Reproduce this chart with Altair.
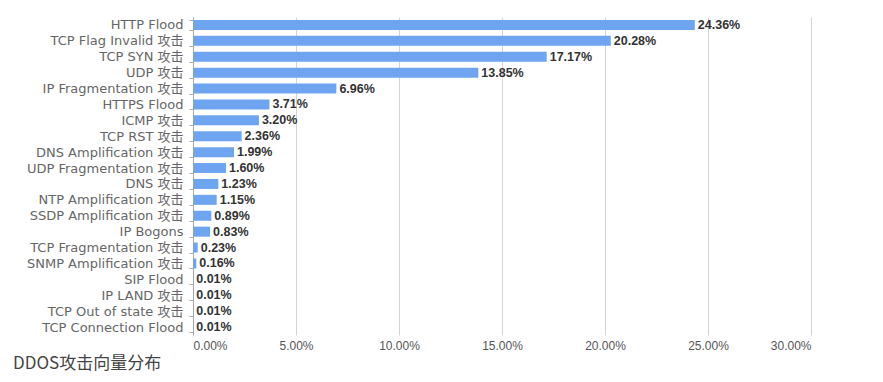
import altair as alt
import pandas as pd

categories = [
    "HTTP Flood", "TCP Flag Invalid 攻击", "TCP SYN 攻击", "UDP 攻击",
    "IP Fragmentation 攻击", "HTTPS Flood", "ICMP 攻击", "TCP RST 攻击",
    "DNS Amplification 攻击", "UDP Fragmentation 攻击", "DNS 攻击",
    "NTP Amplification 攻击", "SSDP Amplification 攻击", "IP Bogons",
    "TCP Fragmentation 攻击", "SNMP Amplification 攻击", "SIP Flood",
    "IP LAND 攻击", "TCP Out of state 攻击", "TCP Connection Flood",
]
values = [24.36, 20.28, 17.17, 13.85, 6.96, 3.71, 3.20, 2.36, 1.99, 1.60,
          1.23, 1.15, 0.89, 0.83, 0.23, 0.16, 0.01, 0.01, 0.01, 0.01]
title_text = "DDOS攻击向量分布"

df = pd.DataFrame({"cat": categories, "val": [v / 100 for v in values]})

yenc = alt.Y("cat:N", sort=categories, title=None,
             scale=alt.Scale(paddingInner=0.37, paddingOuter=0.185),
             axis=alt.Axis(labelFont="DejaVu Sans, Noto Sans CJK SC", labelFontSize=13,
                           labelColor="#666666", domainColor="#aaaaaa", tickColor="#aaaaaa",
                           tickBand="extent", tickSize=4, labelPadding=6, grid=False,
                           minExtent=180))
xenc = alt.X("val:Q", title=None,
             scale=alt.Scale(domain=[0, 0.30], nice=False),
             axis=alt.Axis(format=".2%", values=[0, 0.05, 0.10, 0.15, 0.20, 0.25, 0.30],
                           labelFont="Arial", labelFontSize=12, labelColor="#555555",
                           gridColor="#d4d4d4", domain=False, ticks=False, labelPadding=5))

bars = alt.Chart(df).mark_bar(color="#6fa5f0").encode(x=xenc, y=yenc)
labels = alt.Chart(df).mark_text(align="left", baseline="middle", dx=3,
                                 font="Arial", fontSize=12.5, fontWeight="bold",
                                 color="#333333").encode(
    x="val:Q", y=alt.Y("cat:N", sort=categories),
    text=alt.Text("val:Q", format=".2%"))

chart = (bars + labels).properties(
    width=618, height=318,
    padding={"top": 3, "left": 5, "right": 5, "bottom": 5},
    title=alt.TitleParams(title_text, orient="bottom", anchor="start", frame="bounds",
                          font="Noto Sans CJK SC", fontSize=17, fontWeight="normal",
                          color="#444444", offset=5),
).configure_view(stroke=None)

chart.save("out.html", embed_options={"renderer": "svg", "actions": False})
